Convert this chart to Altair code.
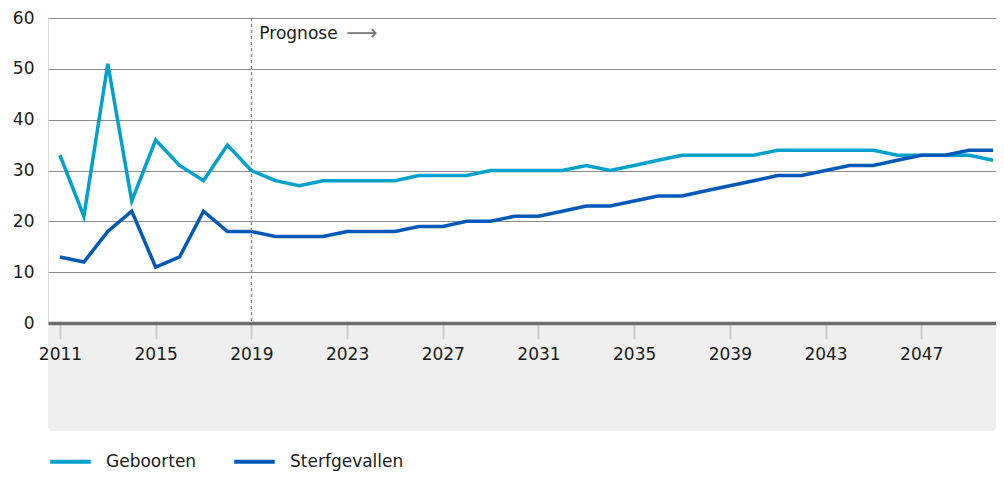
import altair as alt
import pandas as pd

years = list(range(2011, 2051))
geboorten = [33, 21, 51, 24, 36, 31, 28, 35, 30, 28,
             27, 28, 28, 28, 28, 29, 29, 29, 30, 30,
             30, 30, 31, 30, 31, 32, 33, 33, 33, 33,
             34, 34, 34, 34, 34, 33, 33, 33, 33, 32]
sterfgevallen = [13, 12, 18, 22, 11, 13, 22, 18, 18, 17,
                 17, 17, 18, 18, 18, 19, 19, 20, 20, 21,
                 21, 22, 23, 23, 24, 25, 25, 26, 27, 28,
                 29, 29, 30, 31, 31, 32, 33, 33, 34, 34]
series_names = ["Geboorten", "Sterfgevallen"]
series_colors = ["#00a1cd", "#0058b8"]
x_ticks = [2011, 2015, 2019, 2023, 2027, 2031, 2035, 2039, 2043, 2047]
y_ticks = [0, 10, 20, 30, 40, 50, 60]
prognose_year = 2019
prognose_label = "Prognose"

FONT = "DejaVu Sans"
FS = 17
W, H = 948, 305

df = pd.DataFrame({"jaar": years, "Geboorten": geboorten, "Sterfgevallen": sterfgevallen})
long = df.melt("jaar", var_name="reeks", value_name="aantal")

xscale = alt.Scale(domain=[2010.5, 2050.125], nice=False, zero=False)
yscale = alt.Scale(domain=[0, 60], nice=False)

panel = alt.Chart(pd.DataFrame({"p": [0]})).mark_rect(
    color="#efefef", cornerRadius=4
).encode(
    x=alt.value(0), x2=alt.value(W), y=alt.value(H + 2), y2=alt.value(H + 108)
)

lines = alt.Chart(long).mark_line(strokeWidth=3.5, strokeJoin="miter").encode(
    x=alt.X("jaar:Q", scale=xscale, title=None,
            axis=alt.Axis(values=x_ticks, format="d", grid=False, zindex=1,
                          domainColor="#6e6e6e", domainWidth=3.5,
                          tickColor="#cccccc", tickWidth=2, tickSize=16,
                          labelPadding=7, labelFontSize=FS, labelColor="#1a1a1a",
                          labelFont=FONT)),
    y=alt.Y("aantal:Q", scale=yscale, title=None,
            axis=alt.Axis(values=y_ticks, domain=False, ticks=False,
                          gridColor="#8c8c8c", gridWidth=1,
                          labelPadding=14, labelFontSize=FS, labelColor="#1a1a1a",
                          labelFont=FONT)),
    color=alt.Color("reeks:N", sort=series_names,
                    scale=alt.Scale(domain=series_names, range=series_colors),
                    legend=alt.Legend(orient="none", legendX=0, legendY=421,
                                      direction="horizontal", title=None,
                                      symbolType="stroke", symbolSize=1640,
                                      symbolStrokeWidth=4, labelFontSize=FS,
                                      labelFont=FONT, labelColor="#1a1a1a",
                                      labelOffset=13, columnPadding=29, padding=0)),
)

prog = pd.DataFrame({"jaar": [prognose_year], "top": [60], "bottom": [0], "label": [prognose_label], "arrow": ["⟶"]})

rule = alt.Chart(prog).mark_rule(color="#6e6e6e", strokeDash=[3, 3], strokeWidth=1).encode(
    x="jaar:Q", y=alt.Y("top:Q", scale=yscale), y2="bottom:Q"
)
label = alt.Chart(prog).mark_text(
    align="left", baseline="alphabetic", dx=8, dy=21, fontSize=FS, font=FONT, color="#1a1a1a"
).encode(x="jaar:Q", y=alt.Y("top:Q", scale=yscale), text="label:N")
arrow = alt.Chart(prog).mark_text(
    align="left", baseline="middle", dx=95, dy=15, fontSize=22, font="DejaVu Sans", color="#777777"
).encode(x="jaar:Q", y=alt.Y("top:Q", scale=yscale), text="arrow:N")

chart = alt.layer(panel, lines, rule, label, arrow).properties(
    width=W, height=H,
    autosize=alt.AutoSizeParams(type="none"),
    padding={"left": 40, "top": 10, "right": 0, "bottom": 148},
).configure_view(stroke=None).configure(font=FONT)

chart.save("out.html", embed_options={"renderer": "svg", "actions": False})
